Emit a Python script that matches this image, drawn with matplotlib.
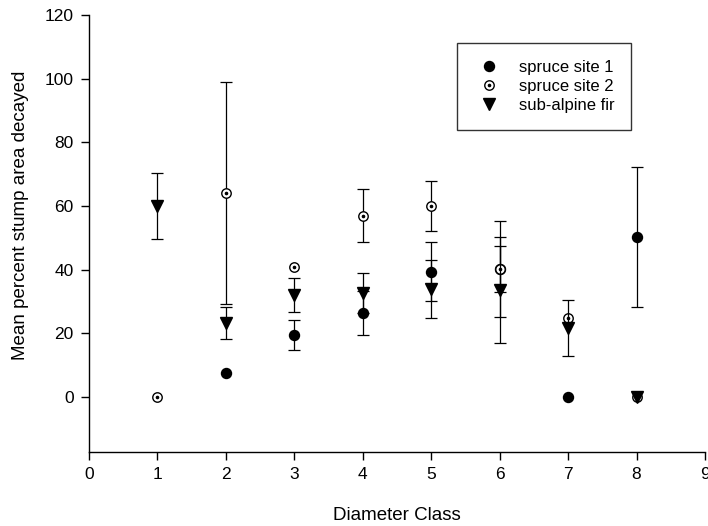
import numpy as np
import matplotlib
matplotlib.use("Agg")
import matplotlib.pyplot as plt
from matplotlib.legend_handler import HandlerTuple
from matplotlib.lines import Line2D
from matplotlib import font_manager

fams = {f.name for f in font_manager.fontManager.ttflist}
fam = "Liberation Sans Narrow" if "Liberation Sans Narrow" in fams else "Liberation Sans"
plt.rcParams['font.family'] = [fam, 'DejaVu Sans']

# Data
diameter_class = [1, 2, 3, 4, 5, 6, 7, 8]
spruce1_mean = [np.nan, 7.5, 19.5, 26.4, 39.3, 40.2, 0, 50.3]
spruce1_err = [np.nan, 0, 4.6, 6.9, 9.3, 7.2, 0, 22]
spruce2_mean = [0, 64.1, 40.8, 56.9, 60, 40.2, 24.8, 0]
spruce2_err = [0, 35, 0, 8.3, 8, 15, 0, 0]
fir_mean = [60, 23.2, 32, 32.7, 33.9, 33.6, 21.7, 0]
fir_err = [10.4, 5, 5.4, 6.3, 9, 16.7, 8.8, 0]

x_ticks = list(range(0, 10))
y_ticks = [0, 20, 40, 60, 80, 100, 120]

fig = plt.figure(figsize=(7.08, 5.26), dpi=100)
ax = fig.add_axes([89/708, 74/526, (705-89)/708, (452-15)/526])

def errs(m, e):
    m = np.array(m, float); e = np.array(e, float)
    e = np.where(e > 0, e, np.nan)
    return m, e

x = np.array(diameter_class)
m, e = errs(spruce1_mean, spruce1_err)
ax.errorbar(x, m, yerr=e, fmt='none', ecolor='black', elinewidth=0.9, capsize=4.5, capthick=0.9, zorder=2)
ax.plot(x, m, 'o', color='black', ms=7.2, zorder=3)

m, e = errs(spruce2_mean, spruce2_err)
ax.errorbar(x, m, yerr=e, fmt='none', ecolor='black', elinewidth=0.9, capsize=4.5, capthick=0.9, zorder=4)
ax.plot(x, m, 'o', mfc='white', mec='black', mew=1.0, ms=6.8, zorder=5)
ax.plot(x, m, 'o', color='black', ms=1.6, zorder=6)

m, e = errs(fir_mean, fir_err)
ax.errorbar(x, m, yerr=e, fmt='none', ecolor='black', elinewidth=0.9, capsize=4.5, capthick=0.9, zorder=7)
ax.plot(x, m, 'v', color='black', ms=8.5, zorder=8)

ax.set_xlim(0, 9)
ax.set_ylim(-17.3, 120)
ax.set_xticks(x_ticks)
ax.set_yticks(y_ticks)
for s in ['top', 'right']:
    ax.spines[s].set_visible(False)
for s in ['left', 'bottom']:
    ax.spines[s].set_linewidth(1.0)
ax.tick_params(direction='out', length=6, width=1.0, labelsize=12.5, pad=5)
ax.set_xlabel('Diameter Class', fontsize=13.5, labelpad=18)
ax.set_ylabel('Mean percent stump area decayed', fontsize=13.5)
ax.yaxis.set_label_coords(-0.097, 0.542)

h1 = Line2D([], [], ls='none', marker='o', color='black', ms=7.2)
h2a = Line2D([], [], ls='none', marker='o', mfc='white', mec='black', mew=1.0, ms=6.8)
h2b = Line2D([], [], ls='none', marker='o', color='black', ms=1.6)
h3 = Line2D([], [], ls='none', marker='v', color='black', ms=8.5)
leg = fig.legend([h1, (h2a, h2b), h3], ['spruce site 1', 'spruce site 2', 'sub-alpine fir'],
                 handler_map={tuple: HandlerTuple(ndivide=1, pad=0)},
                 loc='upper left', bbox_to_anchor=(457/708, 1-43/526),
                 fontsize=12, frameon=True, fancybox=False, edgecolor='black',
                 borderpad=1.0, handlelength=1.8, handletextpad=0.9, labelspacing=0.25,
                 borderaxespad=0)
leg.get_frame().set_linewidth(1.0)

fig.savefig('out.png', dpi=100)
